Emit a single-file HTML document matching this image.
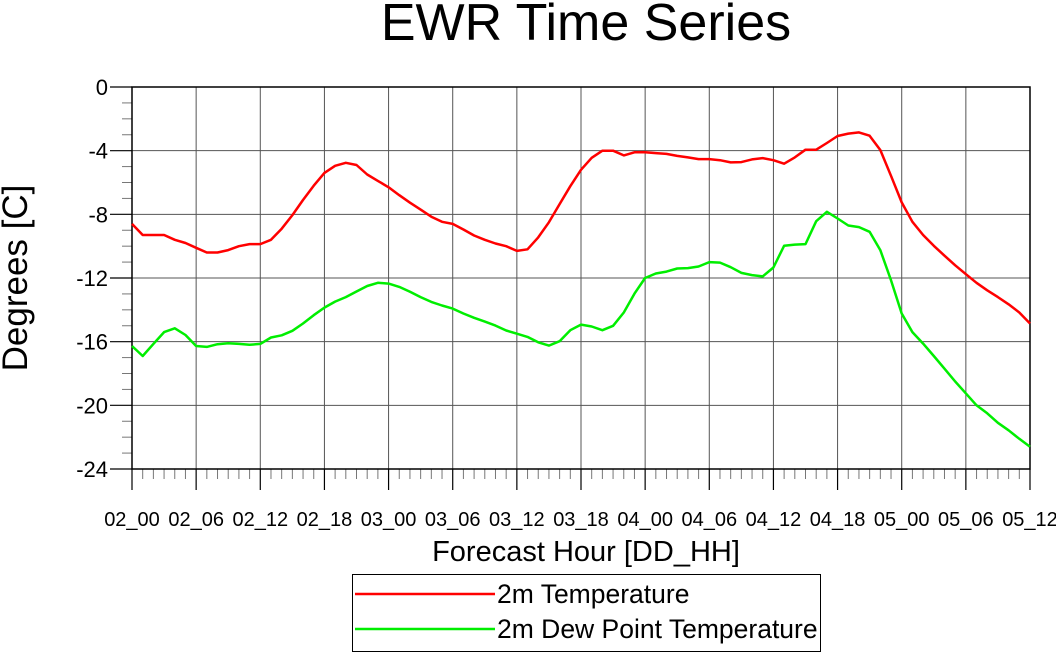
<!DOCTYPE html>
<html><head><meta charset="utf-8"><style>
body{margin:0;background:#fff;}
svg text{font-family:"Liberation Sans",sans-serif;fill:#000;}
</style></head><body>
<svg width="1056" height="652" viewBox="0 0 1056 652" xmlns="http://www.w3.org/2000/svg">
<text x="586" y="40" font-size="52" text-anchor="middle">EWR Time Series</text>
<g id="grid"></g>
<g id="axes"></g>
<g id="series"></g>
<text transform="translate(27,278) rotate(-90)" font-size="35" text-anchor="middle">Degrees [C]</text>
<text x="586" y="561" font-size="29" text-anchor="middle">Forecast Hour [DD_HH]</text>
<g>
<rect x="352.5" y="574.5" width="468" height="77" fill="#fff" stroke="#000" stroke-width="1"/>
<line x1="355" y1="594" x2="495" y2="594" stroke="#ff0000" stroke-width="2.5"/>
<text x="497" y="603" font-size="26.5">2m Temperature</text>
<line x1="355" y1="629" x2="495" y2="629" stroke="#00ee00" stroke-width="2.5"/>
<text x="497" y="638" font-size="26.5">2m Dew Point Temperature</text>
</g>
</svg>
<script>
const hours = Array.from({length:85},(_,i)=>i);
const xTickLabels = ["02_00","02_06","02_12","02_18","03_00","03_06","03_12","03_18","04_00","04_06","04_12","04_18","05_00","05_06","05_12"];
const yTickValues = [0,-4,-8,-12,-16,-20,-24];
const temperature = [-8.6,-9.3,-9.3,-9.3,-9.6,-9.8,-10.1,-10.4,-10.4,-10.25,-10.0,-9.87,-9.87,-9.6,-8.9,-8.05,-7.1,-6.2,-5.4,-4.95,-4.76,-4.9,-5.5,-5.9,-6.3,-6.8,-7.27,-7.7,-8.15,-8.47,-8.6,-8.95,-9.33,-9.6,-9.83,-10.0,-10.3,-10.2,-9.45,-8.5,-7.36,-6.23,-5.2,-4.45,-4.0,-4.0,-4.3,-4.1,-4.1,-4.15,-4.2,-4.33,-4.42,-4.53,-4.53,-4.6,-4.74,-4.72,-4.55,-4.47,-4.6,-4.82,-4.42,-3.94,-3.94,-3.52,-3.08,-2.93,-2.85,-3.06,-3.96,-5.58,-7.25,-8.47,-9.3,-9.98,-10.6,-11.2,-11.76,-12.3,-12.77,-13.2,-13.65,-14.17,-14.86];
const dewpoint = [-16.27,-16.9,-16.14,-15.4,-15.16,-15.58,-16.27,-16.33,-16.16,-16.1,-16.14,-16.2,-16.14,-15.74,-15.6,-15.32,-14.86,-14.34,-13.86,-13.48,-13.2,-12.85,-12.5,-12.3,-12.35,-12.56,-12.87,-13.2,-13.5,-13.73,-13.92,-14.23,-14.5,-14.74,-14.99,-15.3,-15.5,-15.7,-16.04,-16.25,-15.97,-15.28,-14.93,-15.05,-15.28,-15.0,-14.17,-12.98,-12.0,-11.72,-11.6,-11.4,-11.38,-11.28,-11.0,-11.03,-11.32,-11.68,-11.82,-11.9,-11.34,-9.98,-9.9,-9.87,-8.43,-7.84,-8.26,-8.7,-8.8,-9.1,-10.25,-12.14,-14.23,-15.4,-16.12,-16.9,-17.7,-18.5,-19.25,-20.0,-20.5,-21.1,-21.57,-22.1,-22.6];

const L=132,R=1030,T=87,B=469;
const xs=h=>L+(R-L)*h/84;
const ys=v=>T+(B-T)*(0-v)/24;
const NS="http://www.w3.org/2000/svg";
function mk(tag,attrs,parent){const e=document.createElementNS(NS,tag);for(const k in attrs)e.setAttribute(k,attrs[k]);parent.appendChild(e);return e;}
const grid=document.getElementById('grid'),axes=document.getElementById('axes'),series=document.getElementById('series');

xTickLabels.forEach((lab,i)=>{
  const x=xs(i*6);
  if(i>0&&i<xTickLabels.length-1){const g=mk('line',{x1:x,y1:T,x2:x,y2:B,stroke:'#555','stroke-width':1},grid);
  
  }
  const t=mk('line',{x1:x,y1:B,x2:x,y2:B+21,stroke:'#000','stroke-width':1.2},axes);
  
  
  const tx=mk('text',{x:x,y:526,'font-size':20,'text-anchor':'middle'},axes);
  tx.textContent=lab;
  
  
});
hours.forEach(h=>{ if(h%6){const x=xs(h);const t=mk('line',{x1:x,y1:B,x2:x,y2:B+10,stroke:'#777','stroke-width':1},axes);
  
  }});
yTickValues.forEach((v,i)=>{
  const y=ys(v);
  if(i>0&&i<yTickValues.length-1){const g=mk('line',{x1:L,y1:y,x2:R,y2:y,stroke:'#555','stroke-width':1},grid);
  
  }
  const t=mk('line',{x1:L-22,y1:y,x2:L,y2:y,stroke:'#000','stroke-width':1.2},axes);
  
  
  const tx=mk('text',{x:108,y:y+8,'font-size':22,'text-anchor':'end'},axes);
  tx.textContent=String(v);
  
  
  if(i<yTickValues.length-1){for(let k=1;k<4;k++){const yy=ys(v-k);const m=mk('line',{x1:L-10,y1:yy,x2:L,y2:yy,stroke:'#777','stroke-width':1},axes);
    
    }}
});
const frame=mk('rect',{x:L,y:T,width:R-L,height:B-T,fill:'none',stroke:'#000','stroke-width':1.5},axes);



function line(vals,color,name){
  const d=vals.map((v,i)=>(i?'L':'M')+xs(hours[i]).toFixed(1)+','+ys(v).toFixed(1)).join(' ');
  const p=mk('path',{d:d,fill:'none',stroke:color,'stroke-width':2.5,'stroke-linejoin':'round'},series);
  
  
}
line(dewpoint,'#00ee00','dewpoint-line');
line(temperature,'#ff0000','temperature-line');
</script>
</body></html>
